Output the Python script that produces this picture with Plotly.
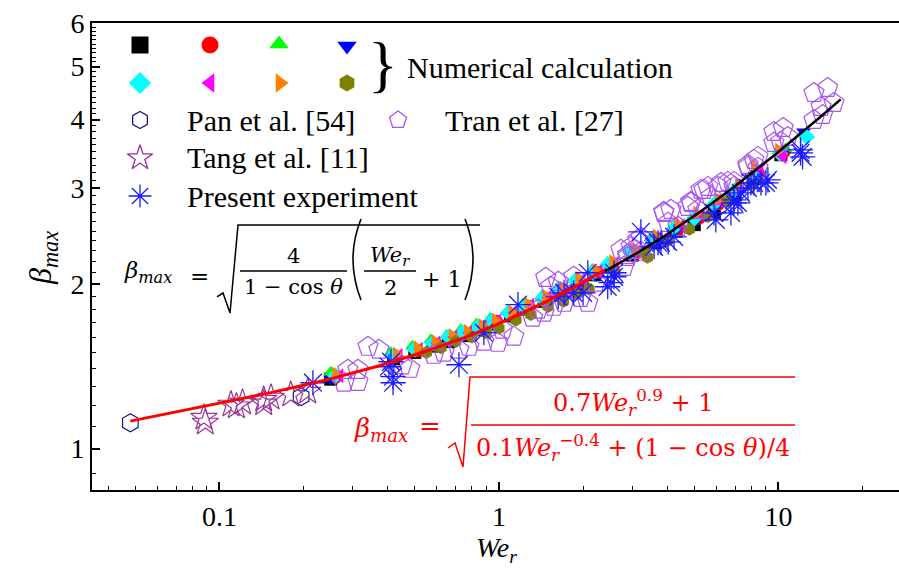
import numpy as np
import plotly.graph_objects as go

# ---------------- data ----------------
PAN_WE = [0.048, 0.196]
PAN_BETA = [1.115, 1.245]

TANG_WE = [0.088, 0.089, 0.110, 0.115, 0.121, 0.144, 0.144, 0.153, 0.180, 0.207]
TANG_BETA = [1.139, 1.116, 1.204, 1.195, 1.214, 1.229, 1.210, 1.240, 1.255, 1.271]

TRAN_WE = [0.279, 0.288, 0.313, 0.313, 0.340, 0.372, 0.45, 0.48,
           0.585, 0.636, 0.719, 0.781, 0.883, 0.99, 1.03, 1.13,
           1.32, 1.38, 1.45, 1.57, 1.47, 1.63, 1.53, 1.67, 1.71, 1.85, 1.96, 2.08, 2.22,
           2.73, 2.97, 3.14, 2.89, 3.22, 3.04, 2.89, 2.80, 3.22,
           3.89, 4.12, 4.86, 4.03, 4.37, 3.89, 4.74, 5.15, 4.86,
           5.28, 5.59, 6.23, 6.93, 5.41, 5.73, 6.08, 6.59, 6.93,
           7.78, 8.17, 8.45, 8.45, 7.78,
           9.63, 10.4, 10.2, 9.63, 10.8,
           13.4, 15.0, 15.8, 14.2, 13.4, 14.4]
TRAN_BETA = [1.320, 1.394, 1.394, 1.325, 1.536, 1.517, 1.42, 1.40,
             1.485, 1.498, 1.517, 1.536, 1.569, 1.562, 1.651, 1.603,
             1.736, 1.796, 1.773, 1.818, 2.054, 2.020, 1.978, 1.928, 1.849, 2.063, 1.888, 1.849, 2.012,
             2.311, 2.341, 2.411, 2.263, 2.292, 2.311, 2.244, 2.151, 2.431,
             2.701, 2.735, 2.817, 2.589, 2.546, 2.712, 2.770, 2.735, 2.829,
             2.975, 3.013, 3.064, 3.077, 2.975, 2.889, 3.013, 3.077, 3.013,
             3.306, 3.376, 3.419, 3.264, 3.278,
             3.798, 3.862, 3.642, 3.627, 3.719,
             4.476, 4.571, 4.292, 4.220, 3.995, 4.080]

EXP_WE = [0.216, 0.411, 0.418, 0.418, 0.404, 0.719, 0.883,
          1.17, 1.63, 1.71, 1.85, 2.0, 2.08, 2.45, 2.58, 2.52, 2.58,
          3.22, 3.59, 3.80, 4.03, 4.23, 3.71,
          5.88, 6.76, 7.16, 5.97, 6.93, 6.93, 7.34, 7.78,
          7.97, 8.66, 9.17, 8.17, 9.02,
          12.0, 12.0, 12.2]
EXP_BETA = [1.320, 1.442, 1.354, 1.320, 1.412, 1.424, 1.630,
            1.834, 1.896, 1.928, 1.928, 1.928, 2.098, 1.978, 2.063, 2.012, 2.098,
            2.493, 2.341, 2.381, 2.390, 2.441, 2.381,
            2.701, 2.701, 2.817, 2.622, 2.817, 2.853, 2.938, 3.000,
            3.064, 3.064, 3.103, 3.064, 3.064,
            3.477, 3.522, 3.419]

NUM_SQUARE_WE = [0.25, 0.42, 0.5, 0.58, 0.66, 0.75, 0.85, 0.95, 1.1, 1.25, 1.45, 1.65, 1.9, 2.2, 2.5,
                 3.0, 3.6, 4.3, 5.0, 5.9, 7.0, 8.2, 10.2]
NUM_SQUARE_BETA = [1.34, 1.46, 1.50, 1.54, 1.57, 1.61, 1.65, 1.69, 1.75, 1.80, 1.86, 1.93, 2.00, 2.08, 2.15,
                   2.26, 2.38, 2.50, 2.57, 2.70, 2.92, 3.12, 3.45]
NUM_CIRCLE_WE = [0.26, 0.43, 0.51, 0.6, 0.68, 0.77, 0.87, 0.98, 1.12, 1.28, 1.48, 1.7, 1.95, 2.25, 2.55,
                 3.1, 3.7, 4.4, 5.2, 6.1, 7.2, 8.5, 10.5]
NUM_CIRCLE_BETA = [1.35, 1.47, 1.51, 1.55, 1.59, 1.62, 1.66, 1.71, 1.76, 1.82, 1.88, 1.95, 2.02, 2.10, 2.17,
                   2.29, 2.42, 2.53, 2.64, 2.80, 2.98, 3.18, 3.50]
NUM_TRIUP_WE = [0.25, 0.41, 0.49, 0.57, 0.65, 0.73, 0.83, 0.93, 1.07, 1.22, 1.42, 1.62, 1.87, 2.15, 2.45,
                2.95, 3.5, 4.2, 5.0, 6.0, 7.1, 8.4, 10.6, 12.6]
NUM_TRIUP_BETA = [1.38, 1.50, 1.54, 1.58, 1.61, 1.65, 1.69, 1.73, 1.78, 1.84, 1.90, 1.97, 2.04, 2.12, 2.19,
                  2.31, 2.43, 2.55, 2.66, 2.83, 3.00, 3.22, 3.53, 3.74]
NUM_TRIDOWN_WE = [0.25, 0.42, 0.5, 0.59, 0.67, 0.76, 0.86, 0.96, 1.1, 1.26, 1.46, 1.67, 1.92, 2.2, 2.5,
                  3.0, 3.6, 4.3, 5.1, 6.0, 7.1, 8.3, 10.3, 12.3]
NUM_TRIDOWN_BETA = [1.34, 1.47, 1.51, 1.55, 1.58, 1.62, 1.66, 1.70, 1.75, 1.81, 1.87, 1.94, 2.01, 2.08, 2.15,
                    2.27, 2.39, 2.51, 2.62, 2.78, 2.95, 3.14, 3.46, 3.80]
NUM_DIAMOND_WE = [0.26, 0.42, 0.5, 0.58, 0.66, 0.74, 0.84, 0.94, 1.08, 1.23, 1.43, 1.63, 1.88, 2.17, 2.45,
                  2.95, 3.55, 4.25, 5.0, 5.9, 7.0, 8.2, 10.1, 12.6]
NUM_DIAMOND_BETA = [1.36, 1.48, 1.52, 1.56, 1.60, 1.63, 1.67, 1.71, 1.77, 1.82, 1.88, 1.95, 2.03, 2.10, 2.17,
                    2.29, 2.41, 2.53, 2.64, 2.80, 2.97, 3.15, 3.47, 3.72]
NUM_TRILEFT_WE = [0.27, 0.44, 0.52, 0.6, 0.69, 0.78, 0.88, 0.99, 1.13, 1.3, 1.5, 1.72, 1.98, 2.28, 2.6,
                  3.15, 3.75, 4.5, 5.3, 6.2, 7.3, 8.6, 10.4]
NUM_TRILEFT_BETA = [1.36, 1.48, 1.52, 1.56, 1.60, 1.63, 1.67, 1.71, 1.77, 1.83, 1.89, 1.96, 2.03, 2.11, 2.18,
                    2.30, 2.43, 2.56, 2.68, 2.84, 3.02, 3.24, 3.42]
NUM_TRIRIGHT_WE = [0.26, 0.43, 0.51, 0.59, 0.68, 0.77, 0.87, 0.97, 1.11, 1.27, 1.47, 1.68, 1.93, 2.22, 2.55,
                   3.05, 3.65, 4.35, 5.1, 6.1, 7.2, 8.2, 10.0]
NUM_TRIRIGHT_BETA = [1.37, 1.49, 1.53, 1.57, 1.61, 1.64, 1.68, 1.72, 1.78, 1.84, 1.90, 1.97, 2.05, 2.12, 2.20,
                     2.32, 2.45, 2.58, 2.70, 2.86, 3.05, 3.28, 3.52]
NUM_HEX_WE = [0.55, 0.62, 0.7, 0.8, 0.9, 1.0, 1.15, 1.3, 1.5, 1.7, 1.9, 2.1, 2.6, 3.3, 3.4, 4.0, 4.8, 5.6, 6.6, 8.0]
NUM_HEX_BETA = [1.50, 1.53, 1.57, 1.60, 1.63, 1.66, 1.72, 1.76, 1.82, 1.86, 1.92, 1.96, 2.10, 2.29, 2.24, 2.40,
                2.52, 2.66, 2.84, 3.05]

# model curves given by the formulas printed in the chart
THETA_DEG = 166.0
RED_WE_RANGE = (0.048, 2.4)
BLACK_WE_RANGE = (2.4, 16.7)

X_TICKS = [0.1, 1, 10]
X_TICK_TEXT = ["0.1", "1", "10"]
Y_TICKS = [1, 2, 3, 4, 5, 6]
Y_TICK_TEXT = ["1", "2", "3", "4", "5", "6"]

# ---------------- layout helpers ----------------
W, H = 899, 572
L, R, T, B = 92, 899, 23, 490
def px(x):
    return (x - L) / (R - L)
def py(y):
    return (B - y) / (B - T)

FONT = "Liberation Serif"
MATH = "DejaVu Serif"
cth = np.cos(np.radians(THETA_DEG))
we_r = np.logspace(np.log10(RED_WE_RANGE[0]), np.log10(RED_WE_RANGE[1]), 200)
beta_r = np.sqrt((0.7 * we_r ** 0.9 + 1) / (0.1 * we_r ** -0.4 + (1 - cth) / 4))
we_b = np.logspace(np.log10(BLACK_WE_RANGE[0]), np.log10(BLACK_WE_RANGE[1]), 200)
beta_b = np.sqrt(4 / (1 - cth) * (we_b / 2 + 1))

fig = go.Figure()

num_series = [
    (NUM_SQUARE_WE, NUM_SQUARE_BETA, "square", "#000000"),
    (NUM_CIRCLE_WE, NUM_CIRCLE_BETA, "circle", "#FF0000"),
    (NUM_TRIUP_WE, NUM_TRIUP_BETA, "triangle-up", "#00FF00"),
    (NUM_TRIDOWN_WE, NUM_TRIDOWN_BETA, "triangle-down", "#0000FF"),
    (NUM_DIAMOND_WE, NUM_DIAMOND_BETA, "diamond", "#00FFFF"),
    (NUM_TRILEFT_WE, NUM_TRILEFT_BETA, "triangle-left", "#FF00FF"),
    (NUM_TRIRIGHT_WE, NUM_TRIRIGHT_BETA, "triangle-right", "#FF8000"),
    (NUM_HEX_WE, NUM_HEX_BETA, "hexagon", "#808000"),
]
for xs, ys, sym, col in num_series:
    fig.add_trace(go.Scatter(x=xs, y=ys, mode="markers",
                             marker=dict(symbol=sym, size=13, color=col, line=dict(width=0)),
                             showlegend=False))

PAN_C, TANG_C, TRAN_C, EXP_C = "#1A1A8C", "#993399", "#A855F0", "#1A1AFF"
fig.add_trace(go.Scatter(x=PAN_WE, y=PAN_BETA, mode="markers", showlegend=False,
                         marker=dict(symbol="hexagon-open", size=18, color=PAN_C,
                                     line=dict(width=1.2, color=PAN_C))))
fig.add_trace(go.Scatter(x=TANG_WE, y=TANG_BETA, mode="markers", showlegend=False,
                         marker=dict(symbol="star-open", size=20, color=TANG_C,
                                     line=dict(width=1.2, color=TANG_C))))
fig.add_trace(go.Scatter(x=TRAN_WE, y=TRAN_BETA, mode="markers", showlegend=False,
                         marker=dict(symbol="pentagon-open", size=21, color=TRAN_C,
                                     line=dict(width=1.2, color=TRAN_C))))
fig.add_trace(go.Scatter(x=EXP_WE, y=EXP_BETA, mode="markers", showlegend=False,
                         marker=dict(symbol="asterisk-open", size=21, color=EXP_C,
                                     line=dict(width=1.3, color=EXP_C))))

fig.add_trace(go.Scatter(x=we_r, y=beta_r, mode="lines", showlegend=False,
                         line=dict(color="#FF0000", width=3)))
fig.add_trace(go.Scatter(x=we_b, y=beta_b, mode="lines", showlegend=False,
                         line=dict(color="#000000", width=2.5)))

# ---------------- custom legend (overlay axes in paper units) ----------------
leg_rows = [
    (140, 45, "square", "#000000"), (210, 45, "circle", "#FF0000"),
    (279, 44, "triangle-up", "#00FF00"), (347, 46, "triangle-down", "#0000FF"),
    (140, 83, "diamond", "#00FFFF"), (210, 83, "triangle-left", "#FF00FF"),
    (280, 83, "triangle-right", "#FF8000"), (347, 83, "hexagon", "#808000"),
]
for lx, ly, sym, col in leg_rows:
    fig.add_trace(go.Scatter(x=[px(lx)], y=[py(ly)], xaxis="x2", yaxis="y2", mode="markers",
                             marker=dict(symbol=sym, size=17, color=col, line=dict(width=0)),
                             showlegend=False, hoverinfo="skip"))
leg_open = [
    (140, 120, "hexagon-open", PAN_C, 17), (398, 120, "pentagon-open", TRAN_C, 18),
    (140, 158, "star-open", TANG_C, 19), (140, 196, "asterisk-open", EXP_C, 19),
]
for lx, ly, sym, col, sz in leg_open:
    fig.add_trace(go.Scatter(x=[px(lx)], y=[py(ly)], xaxis="x2", yaxis="y2", mode="markers",
                             marker=dict(symbol=sym, size=sz, color=col, line=dict(width=1.3, color=col)),
                             showlegend=False, hoverinfo="skip"))

ann = []
def text(x, y, s, size=30, color="black", xanchor="left", angle=0, family=FONT, pad=1):
    ann.append(dict(x=px(x), y=py(y), xref="paper", yref="paper", text=s, showarrow=False,
                    xanchor=xanchor, yanchor="middle", textangle=angle, borderpad=pad,
                    font=dict(family=family, size=size, color=color)))

text(383, 64, "}", size=62, xanchor="center")
text(405, 67, "Numerical calculation")
text(185, 120, "Pan et al. [54]")
text(443, 120, "Tran et al. [27]")
text(185, 158, "Tang et al. [11]")
text(185, 196, "Present experiment")

# axis titles
text(42, 258, "<i>β</i><sub><i>max</i></sub>", size=32, xanchor="center", angle=-90)
text(497, 549, "<i>We</i><sub><i>r</i></sub>", size=28, xanchor="center", pad=0)

# black formula
text(148, 272, "<i>β</i><sub><i>max</i></sub>", size=23, xanchor="center", family=MATH)
text(199, 276, "=", size=23, xanchor="center", family=MATH)
text(293, 256, "4", size=21, xanchor="center", family=MATH)
text(293, 287, "1 − cos <i>θ</i>", size=21, xanchor="center", family=MATH)
text(390, 256, "<i>We</i><sub><i>r</i></sub>", size=21, xanchor="center", family=MATH)
text(390, 288, "2", size=21, xanchor="center", family=MATH)
text(441, 279, "+ 1", size=22, xanchor="center", family=MATH)

# red formula
RED = "#FF0000"
text(381, 429, "<i>β</i><sub><i>max</i></sub>", size=26, color=RED, xanchor="center", family=MATH)
text(430, 426, "=", size=26, color=RED, xanchor="center", family=MATH)
text(633, 402, "0.7<i>We</i><sub><i>r</i></sub><sup>0.9</sup> + 1", size=24, color=RED,
     xanchor="center", family=MATH)
text(633, 447, "0.1<i>We</i><sub><i>r</i></sub><sup>−0.4</sup> + (1 − cos <i>θ</i>)/4", size=24,
     color=RED, xanchor="center", family=MATH)

def P(pts):
    return "M " + " L ".join(f"{px(a):.5f},{py(b):.5f}" for a, b in pts)
def Q(x0, y0, cx, cy, x1, y1):
    return f"M {px(x0):.5f},{py(y0):.5f} Q {px(cx):.5f},{py(cy):.5f} {px(x1):.5f},{py(y1):.5f}"

def shp(path, color, width):
    return dict(type="path", path=path, xref="paper", yref="paper", line=dict(color=color, width=width))

shapes = [
    shp(P([(217, 297), (223, 293), (230, 313), (238, 225), (480, 225)]), "black", 1.5),
    shp(P([(240, 271), (347, 271)]), "black", 1.3),
    shp(P([(364, 271), (416, 271)]), "black", 1.3),
    shp(Q(361, 219, 345, 259, 361, 300), "black", 1.6),
    shp(Q(465, 219, 481, 259, 465, 300), "black", 1.6),
    shp(P([(448, 448), (455, 443), (463, 467), (470, 377), (795, 377)]), RED, 1.5),
    shp(P([(471, 425), (795, 425)]), RED, 1.5),
]

minor_x = [0.04, 0.05, 0.06, 0.07, 0.08, 0.09] + [k / 10 for k in range(2, 10)] + list(range(2, 10)) + [20]
minor_y = [0.9] + [round(1 + k / 10, 1) for k in range(1, 50)]
minor_y = [v for v in minor_y if abs(v - round(v)) > 1e-6]

fig.update_layout(
    width=W, height=H, margin=dict(l=L, r=W - R, t=T, b=H - B),
    paper_bgcolor="white", plot_bgcolor="white", showlegend=False,
    font=dict(family=FONT, size=28, color="black"),
    xaxis=dict(type="log", range=[np.log10(0.035), np.log10(27)], tickvals=X_TICKS, ticktext=X_TICK_TEXT,
               ticks="inside", ticklen=8, tickwidth=1.5, tickcolor="black", showgrid=False, zeroline=False,
               showline=True, linecolor="black", linewidth=1.8, mirror=True,
               tickfont=dict(family=FONT, size=28, color="black"),
               minor=dict(tickvals=minor_x, ticks="inside", ticklen=4, tickwidth=1.2, tickcolor="black",
                          showgrid=False)),
    yaxis=dict(type="log", range=[np.log10(0.84), np.log10(6.01)], tickvals=Y_TICKS, ticktext=Y_TICK_TEXT,
               ticks="inside", ticklen=8, tickwidth=1.5, tickcolor="black", showgrid=False, zeroline=False,
               showline=True, linecolor="black", linewidth=1.8,
               tickfont=dict(family=FONT, size=28, color="black"),
               minor=dict(tickvals=minor_y, ticks="inside", ticklen=4, tickwidth=1.2, tickcolor="black",
                          showgrid=False)),
    xaxis2=dict(overlaying="x", range=[0, 1], visible=False, fixedrange=True),
    yaxis2=dict(overlaying="y", range=[0, 1], visible=False, fixedrange=True),
    annotations=ann, shapes=shapes,
)

fig.write_html("out.html")
